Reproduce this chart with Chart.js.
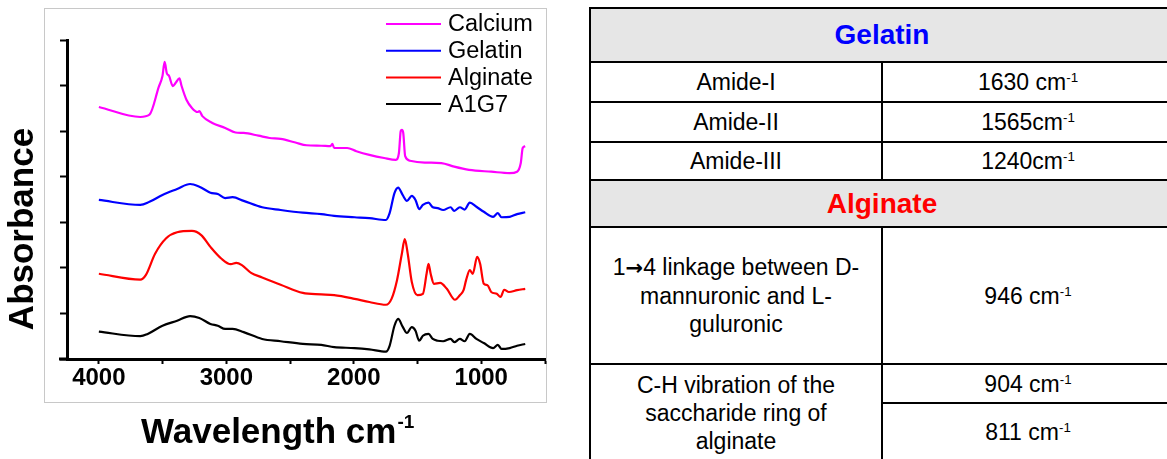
<!DOCTYPE html>
<html><head><meta charset="utf-8">
<script src="https://cdn.jsdelivr.net/npm/chart.js@4.4.1/dist/chart.umd.min.js"></script>
<style>
html,body{margin:0;padding:0;background:#fff;overflow:hidden;width:1167px;height:459px;}
#c{position:absolute;left:0;top:0;}
#tbl{position:absolute;left:589px;top:7px;border-collapse:collapse;table-layout:fixed;width:584px;font-family:"Liberation Sans",Arial,sans-serif;font-size:23px;color:#000;}
#tbl td{border:2px solid #000;text-align:center;vertical-align:middle;padding:0 16px;line-height:28px;}
#tbl td.hdr{background:#e6e6e6;font-weight:bold;font-size:28px;}
#tbl sup{font-size:0.58em;vertical-align:0.6em;line-height:0;}
#tbl .arr{font-family:"DejaVu Sans",sans-serif;font-weight:bold;font-size:21px;}
</style>
</head><body>
<canvas id="c" width="580" height="459" style="width:580px;height:459px"></canvas>
<table id="tbl">
<colgroup><col style="width:292px"><col style="width:292px"></colgroup>
<tr style="height:54px"><td class="hdr" colspan="2" style="color:#0000ff">Gelatin</td></tr>
<tr style="height:40px"><td>Amide-I</td><td>1630 cm<sup>-1</sup></td></tr>
<tr style="height:40px"><td>Amide-II</td><td>1565cm<sup>-1</sup></td></tr>
<tr style="height:38px"><td>Amide-III</td><td>1240cm<sup>-1</sup></td></tr>
<tr style="height:47px"><td class="hdr" colspan="2" style="color:#ff0000">Alginate</td></tr>
<tr style="height:137px"><td>1<span class="arr">→</span>4 linkage between D-mannuronic and L-guluronic</td><td>946 cm<sup>-1</sup></td></tr>
<tr style="height:39px"><td rowspan="2">C-H vibration of the saccharide ring of alginate</td><td>904 cm<sup>-1</sup></td></tr>
<tr style="height:58px"><td>811 cm<sup>-1</sup></td></tr>
</table>
<script>
// ---- data ----
const seriesLabels = ["Calcium", "Gelatin", "Alginate", "A1G7"];
const seriesColors = ["#ff00ff", "#0000ff", "#ff0000", "#000000"];

const calciumX = [4000,3675,3603,3530,3501,3484,3467,3449,3420,3397,3368,3351,3313,3270,3226,3212,3188,3110,3009,2928,2864,2748,2661,2574,2458,2371,2255,2183,2168,2154,2052,1980,1878,1762,1670,1646,1632,1623,1612,1597,1559,1443,1313,1212,1096,922,777,719,690,675,655];
const calciumY = [5.53,5.31,5.36,5.97,6.21,6.52,6.27,6.21,5.99,6.06,6.16,5.99,5.69,5.51,5.42,5.44,5.33,5.18,5.07,4.97,4.96,4.90,4.85,4.83,4.75,4.69,4.68,4.67,4.72,4.63,4.63,4.56,4.48,4.41,4.37,4.52,5.00,5.03,4.96,4.45,4.35,4.31,4.30,4.22,4.15,4.11,4.08,4.11,4.30,4.63,4.67];

const gelatinX = [4000,3675,3603,3501,3386,3284,3212,3125,3067,3009,2951,2864,2719,2574,2400,2255,2154,1994,1878,1748,1719,1681,1652,1617,1583,1545,1516,1487,1458,1414,1380,1342,1299,1241,1212,1168,1130,1090,1038,980,907,870,841,777,719,655];
const gelatinY = [3.49,3.38,3.45,3.60,3.73,3.84,3.78,3.65,3.62,3.53,3.55,3.47,3.33,3.27,3.21,3.18,3.14,3.11,3.09,3.05,3.20,3.64,3.76,3.60,3.47,3.58,3.49,3.29,3.38,3.43,3.33,3.31,3.27,3.33,3.25,3.33,3.28,3.43,3.34,3.23,3.12,3.20,3.11,3.12,3.18,3.22];

const alginateX = [4000,3675,3632,3559,3472,3386,3270,3197,3125,3038,2965,2922,2878,2806,2719,2574,2400,2255,2154,1994,1878,1748,1704,1661,1623,1600,1577,1545,1501,1458,1429,1414,1397,1371,1322,1270,1206,1168,1139,1119,1090,1067,1032,1009,980,951,922,878,849,820,783,719,655];
const alginateY = [1.87,1.74,1.84,2.31,2.65,2.78,2.81,2.72,2.46,2.20,2.08,2.11,2.06,1.89,1.79,1.63,1.45,1.42,1.40,1.32,1.25,1.19,1.32,1.73,2.31,2.63,2.31,1.69,1.40,1.43,1.87,2.09,1.87,1.65,1.67,1.54,1.30,1.40,1.51,1.73,1.95,1.87,2.24,2.09,1.65,1.62,1.47,1.43,1.36,1.52,1.47,1.51,1.54];

const a1g7X = [4000,3675,3617,3501,3386,3284,3212,3125,3067,3009,2951,2864,2719,2574,2400,2255,2154,1994,1878,1748,1719,1681,1652,1617,1583,1545,1516,1487,1458,1414,1380,1342,1299,1241,1212,1168,1130,1090,1038,980,907,870,841,777,719,655];
const a1g7Y = [0.60,0.50,0.55,0.73,0.84,0.94,0.90,0.77,0.73,0.66,0.66,0.59,0.44,0.39,0.33,0.31,0.26,0.24,0.21,0.16,0.29,0.73,0.88,0.71,0.57,0.70,0.62,0.40,0.51,0.55,0.44,0.40,0.39,0.44,0.37,0.44,0.39,0.55,0.44,0.35,0.24,0.31,0.22,0.24,0.29,0.33];

const xTickValues = [4000, 3500, 3000, 2500, 2000, 1500, 1000, 500];
const xTickLabels = [4000, 3000, 2000, 1000];
const yTickValues = [0, 1, 2, 3, 4, 5, 6, 7];
const xTitle = "Wavelength cm";
const xTitleSup = "-1";
const yTitle = "Absorbance";

// ---- chart ----
const FONT = '"Liberation Sans", Arial, sans-serif';
const seriesX = [calciumX, gelatinX, alginateX, a1g7X];
const seriesY = [calciumY, gelatinY, alginateY, a1g7Y];

const datasets = seriesLabels.map((lab, k) => ({
  label: lab,
  data: seriesX[k].map((x, i) => ({ x: x, y: seriesY[k][i] })),
  borderColor: seriesColors[k],
  backgroundColor: seriesColors[k],
  borderWidth: 2.2,
  pointRadius: 0,
  fill: false,
  cubicInterpolationMode: 'monotone'
}));

const decorPlugin = {
  id: 'decor',
  beforeDraw(chart) {
    const c = chart.ctx;
    c.save();
    c.strokeStyle = '#c8c8c8';
    c.lineWidth = 1;
    c.strokeRect(44.5, 8.5, 502, 394);
    c.restore();
  },
  afterDraw(chart) {
    const c = chart.ctx;
    const a = chart.chartArea;
    c.save();
    // x axis line continues a little left of the y axis
    c.strokeStyle = '#000';
    c.lineWidth = 3;
    c.beginPath();
    c.moveTo(a.left - 8, a.bottom);
    c.lineTo(a.left, a.bottom);
    c.stroke();

    // legend
    c.font = '23.5px ' + FONT;
    c.textBaseline = 'middle';
    c.textAlign = 'left';
    chart.data.datasets.forEach((ds, i) => {
      const y = 24 + i * 26.7;
      c.strokeStyle = ds.borderColor;
      c.lineWidth = 2;
      c.beginPath();
      c.moveTo(386, y);
      c.lineTo(441, y);
      c.stroke();
      c.fillStyle = '#000';
      c.fillText(ds.label, 448, y + 1);
    });

    // x title with superscript
    c.fillStyle = '#000';
    c.textBaseline = 'alphabetic';
    c.font = 'bold 35px ' + FONT;
    const w = c.measureText(xTitle).width;
    const x0 = 141;
    c.fillText(xTitle, x0, 443);
    c.font = 'bold 19px ' + FONT;
    c.fillText(xTitleSup, x0 + w + 1, 428);

    // y title
    c.font = 'bold 35px ' + FONT;
    c.translate(33, 229);
    c.rotate(-Math.PI / 2);
    c.textAlign = 'center';
    c.fillText(yTitle, 0, 0);
    c.restore();
  }
};

new Chart(document.getElementById('c'), {
  type: 'line',
  data: { datasets: datasets },
  options: {
    responsive: false,
    animation: false,
    layout: { padding: { left: 0, top: 40, right: 35, bottom: 0 } },
    plugins: { legend: { display: false }, tooltip: { enabled: false } },
    scales: {
      x: {
        type: 'linear',
        reverse: true,
        min: 500,
        max: 4250,
        afterFit(s) { s.height = 100; },
        afterBuildTicks(s) { s.ticks = xTickValues.map(v => ({ value: v })); },
        border: { display: true, color: '#000', width: 3 },
        grid: { display: true, drawOnChartArea: false, drawTicks: true, tickLength: 5, tickWidth: 2, tickColor: '#000' },
        ticks: {
          autoSkip: false, maxRotation: 0, minRotation: 0,
          color: '#000', padding: 0,
          font: { family: FONT, size: 24, weight: 'bold' },
          callback: (v) => xTickLabels.includes(v) ? String(v) : ''
        }
      },
      y: {
        type: 'linear',
        min: 0,
        max: 7,
        afterFit(s) { s.width = 67; },
        afterBuildTicks(s) { s.ticks = yTickValues.map(v => ({ value: v })); },
        border: { display: true, color: '#000', width: 3 },
        grid: { display: true, drawOnChartArea: false, drawTicks: true, tickLength: 7, tickWidth: 2, tickColor: '#000' },
        ticks: { display: false }
      }
    }
  },
  plugins: [decorPlugin]
});
</script>
</body></html>
